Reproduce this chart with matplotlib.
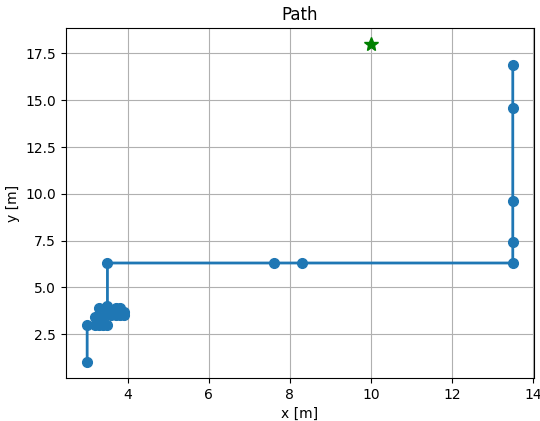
import matplotlib
matplotlib.use("Agg")
import matplotlib.pyplot as plt

path_x = [3.0, 3.0, 3.2, 3.3, 3.4, 3.5, 3.4, 3.2, 3.3, 3.5, 3.6, 3.7, 3.8, 3.9, 3.9, 3.8, 3.7, 3.6, 3.5, 3.5,
          7.6, 8.3, 13.5, 13.5, 13.5, 13.5, 13.5]
path_y = [1.0, 3.0, 3.0, 3.0, 3.0, 3.0, 3.4, 3.4, 3.9, 3.9, 3.6, 3.9, 3.9, 3.7, 3.5, 3.5, 3.5, 3.5, 4.0, 6.3,
          6.3, 6.3, 6.3, 7.4, 9.6, 14.6, 16.9]
goal_x = [10.0]
goal_y = [18.0]

fig, ax = plt.subplots(figsize=(5.4, 4.21), dpi=100)
ax.plot(path_x, path_y, "o-", color="#1f77b4", linewidth=2, markersize=7)
ax.plot(goal_x, goal_y, "*", color="green", markersize=10)
ax.set_title("Path")
ax.set_xlabel("x [m]")
ax.set_ylabel("y [m]")
ax.grid(True)
fig.subplots_adjust(left=0.122, right=0.989, top=0.933, bottom=0.102)
fig.savefig("out.png", dpi=100)
